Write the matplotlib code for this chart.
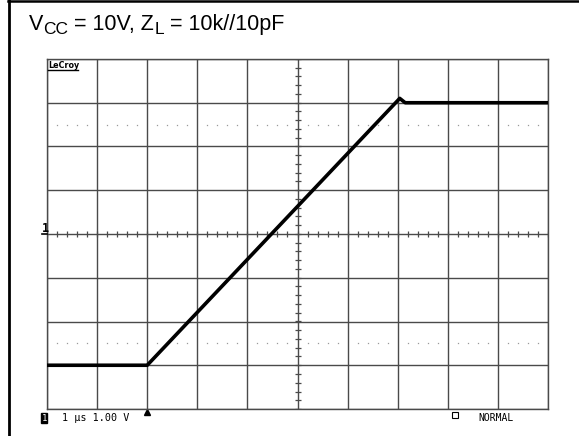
"""Scope capture: output swing for VCC = 10V into 10k//10pF (LeCroy screen)."""
import numpy as np
import matplotlib.pyplot as plt
from matplotlib.lines import Line2D

plt.rcParams["font.family"] = ["Liberation Sans", "DejaVu Sans"]

# trace: 1 us/div, 1.00 V/div, ground at centre
time_us = [-5.0, -3.0, 2.0, 2.04, 2.15, 5.0]
volts = [-3.0, -3.0, 3.05, 3.1, 3.0, 3.0]
ref_levels = [-2.5, 2.5]          # dotted 10 % / 90 % marks

# title pieces: (text, is_subscript)
title_parts = [("V", False), ("CC", True), (" = 10V, Z", False),
               ("L", True), (" = 10k//10pF", False)]

W, H = 579, 436
fig = plt.figure(figsize=(W / 100, H / 100), dpi=100)
fig.patch.set_facecolor("white")


def fx(x):
    return x / W


def fy(y):
    return 1 - y / H


GRID = "#4a4a4a"
ax = fig.add_axes([fx(47), fy(409), fx(548) - fx(47), fy(59) - fy(409)])
ax.set_xlim(-5, 5)
ax.set_ylim(-4, 4)
ax.set_xticks(np.arange(-5, 6))
ax.set_yticks(np.arange(-4, 5))
ax.tick_params(length=0, labelbottom=False, labelleft=False)
ax.grid(True, color=GRID, lw=1.0)
for sp in ax.spines.values():
    sp.set_color(GRID)
    sp.set_linewidth(1.0)

# minor ticks on the centre cross
fine_x = np.arange(-5, 5.001, 0.2)
fine_y = np.arange(-4, 4.001, 0.2)
ax.plot(fine_x, np.zeros_like(fine_x), ls="", marker="|", ms=4.5,
        mew=0.9, color=GRID)
ax.plot(np.zeros_like(fine_y), fine_y, ls="", marker="_", ms=4.5,
        mew=0.9, color=GRID)

# dotted reference levels
dot_x = fine_x[np.abs(fine_x - np.round(fine_x)) > 0.05]
for lv in ref_levels:
    ax.plot(dot_x, np.full_like(dot_x, lv), ls="", marker="s", ms=0.9,
            mew=0, color="#9a9a9a")

ax.plot(time_us, volts, color="black", lw=2.6, solid_joinstyle="round",
        zorder=5)

# trigger marker under the bottom edge, status box before NORMAL
ax.plot([-3.0], [-4.06], marker="^", ms=4, color="black", clip_on=False)
ax.plot([3.15], [-4.13], marker="s", ms=4.5, mfc="none",
        mec="black", mew=0.8, clip_on=False)

# screen labels
fig.text(fx(48), fy(68), "LeCroy", fontsize=5.8, fontweight="bold",
         family="DejaVu Sans", va="baseline")
fig.add_artist(Line2D([fx(48), fx(78)], [fy(70), fy(70)], color="black",
                      lw=1.0))
fig.text(fx(41.5), fy(232), "1", fontsize=8.5, fontweight="bold",
         family="DejaVu Sans Mono", va="baseline")
fig.add_artist(Line2D([fx(42), fx(47)], [fy(234), fy(234)], color="black",
                      lw=1.2))

fig.text(fx(41.5), fy(420.5), "1", fontsize=6.5, family="DejaVu Sans Mono",
         color="white", va="baseline",
         bbox=dict(boxstyle="square,pad=0.06", fc="black", ec="black"))
fig.text(fx(62), fy(421), "1 \u03bcs 1.00 V", fontsize=7.3,
         family="DejaVu Sans Mono", va="baseline")
fig.text(fx(478), fy(421), "NORMAL", fontsize=7.0,
         family="DejaVu Sans Mono", va="baseline")

# title with near-full-size subscripts, laid out piece by piece
renderer = fig.canvas.get_renderer()
x = 29.0
for txt, sub in title_parts:
    t = fig.text(fx(x), fy(33.5 if sub else 30), txt,
                 fontsize=12.5 if sub else 15.5, va="baseline")
    x += t.get_window_extent(renderer).width

# page frame
fig.add_artist(Line2D([fx(8.5), fx(8.5)], [0, 1], color="black", lw=2))
fig.add_artist(Line2D([fx(8), 1], [fy(1.5), fy(1.5)], color="black", lw=1.8))

fig.savefig("out.png", dpi=100)
